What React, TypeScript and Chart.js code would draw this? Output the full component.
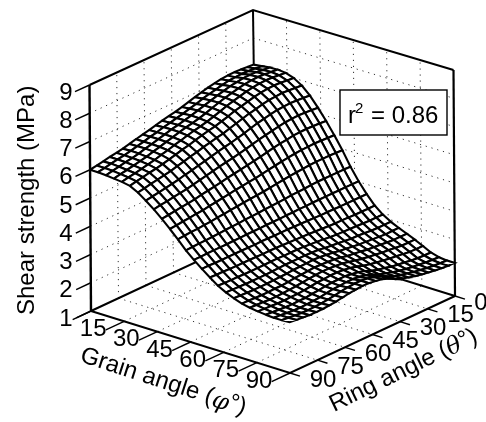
import React, { useEffect, useRef } from "react";
import { Chart, registerables } from "chart.js";

Chart.register(...registerables);

const grainTicks = [0, 15, 30, 45, 60, 75, 90];
const grainLabels = ["15", "30", "45", "60", "75", "90"];
const ringTicks = [90, 75, 60, 45, 30, 15, 0];
const ringLabels = ["90", "75", "60", "45", "30", "15", "0"];
const shearTicks = [1, 2, 3, 4, 5, 6, 7, 8, 9];
const rSquared = "0.86";

// rows: ring angle from 90 down to 0 in 25 steps; columns: grain angle from 0 to 90 in 25 steps
const shearRows: number[][] = [
  [6.00,6.00,5.98,5.95,5.92,5.87,5.72,5.52,5.30,5.05,4.78,4.50,4.20,3.95,3.72,3.50,3.30,3.15,3.03,2.93,2.87,2.83,2.80,2.78,2.78,2.80],
  [6.04,6.04,6.03,6.00,5.97,5.92,5.76,5.56,5.34,5.08,4.80,4.52,4.21,3.95,3.72,3.49,3.29,3.14,3.02,2.92,2.86,2.81,2.78,2.76,2.76,2.77],
  [6.08,6.09,6.07,6.04,6.01,5.96,5.81,5.60,5.37,5.11,4.83,4.54,4.22,3.96,3.71,3.49,3.28,3.13,3.01,2.91,2.85,2.80,2.76,2.73,2.73,2.75],
  [6.13,6.13,6.12,6.09,6.06,6.01,5.85,5.64,5.41,5.14,4.85,4.55,4.23,3.96,3.71,3.48,3.28,3.12,3.00,2.90,2.83,2.78,2.74,2.71,2.71,2.72],
  [6.17,6.17,6.16,6.14,6.11,6.05,5.90,5.68,5.44,5.17,4.88,4.57,4.24,3.96,3.71,3.47,3.27,3.12,3.00,2.90,2.83,2.78,2.73,2.70,2.70,2.72],
  [6.21,6.22,6.21,6.19,6.16,6.10,5.94,5.73,5.48,5.20,4.90,4.59,4.25,3.96,3.71,3.47,3.27,3.12,3.00,2.91,2.84,2.79,2.74,2.71,2.71,2.72],
  [6.27,6.28,6.28,6.26,6.23,6.16,6.01,5.79,5.53,5.25,4.94,4.62,4.27,3.97,3.71,3.47,3.27,3.12,3.01,2.91,2.85,2.79,2.74,2.72,2.72,2.74],
  [6.33,6.33,6.33,6.32,6.29,6.22,6.06,5.84,5.58,5.29,4.97,4.64,4.28,3.97,3.71,3.47,3.27,3.13,3.02,2.93,2.87,2.81,2.77,2.74,2.75,2.76],
  [6.39,6.40,6.40,6.39,6.36,6.29,6.13,5.90,5.63,5.33,5.01,4.67,4.29,3.98,3.70,3.46,3.28,3.14,3.03,2.96,2.90,2.84,2.79,2.78,2.78,2.80],
  [6.44,6.45,6.46,6.45,6.42,6.34,6.18,5.95,5.68,5.37,5.04,4.69,4.31,3.98,3.71,3.46,3.28,3.15,3.05,2.97,2.92,2.87,2.82,2.81,2.82,2.84],
  [6.50,6.52,6.53,6.52,6.49,6.41,6.25,6.01,5.73,5.42,5.08,4.72,4.32,3.98,3.71,3.46,3.27,3.15,3.06,2.99,2.94,2.88,2.84,2.82,2.85,2.86],
  [6.56,6.57,6.58,6.58,6.55,6.47,6.30,6.07,5.78,5.46,5.11,4.74,4.33,3.99,3.70,3.45,3.27,3.15,3.07,3.01,2.96,2.90,2.85,2.84,2.87,2.88],
  [6.61,6.63,6.64,6.63,6.60,6.53,6.36,6.12,5.82,5.50,5.14,4.76,4.35,3.99,3.70,3.44,3.27,3.15,3.08,3.00,2.95,2.90,2.85,2.84,2.87,2.87],
  [6.66,6.68,6.70,6.69,6.66,6.58,6.41,6.17,5.87,5.54,5.17,4.78,4.36,3.99,3.70,3.43,3.26,3.14,3.07,2.99,2.93,2.88,2.82,2.81,2.84,2.84],
  [6.72,6.75,6.77,6.76,6.73,6.65,6.48,6.23,5.92,5.58,5.21,4.81,4.37,4.00,3.69,3.42,3.24,3.13,3.04,2.97,2.91,2.84,2.78,2.76,2.78,2.79],
  [6.79,6.81,6.84,6.84,6.81,6.72,6.55,6.29,5.98,5.63,5.25,4.84,4.39,4.00,3.69,3.41,3.22,3.09,3.01,2.93,2.86,2.78,2.71,2.67,2.69,2.70],
  [6.86,6.89,6.91,6.92,6.89,6.80,6.62,6.36,6.04,5.68,5.29,4.87,4.41,4.01,3.68,3.39,3.20,3.06,2.96,2.87,2.80,2.70,2.61,2.57,2.58,2.58],
  [6.92,6.95,6.98,6.99,6.96,6.86,6.69,6.43,6.09,5.73,5.33,4.90,4.42,4.01,3.67,3.38,3.17,3.04,2.93,2.84,2.75,2.65,2.54,2.50,2.49,2.50],
  [6.98,7.00,7.04,7.05,7.02,6.92,6.74,6.48,6.14,5.77,5.36,4.92,4.43,4.02,3.66,3.36,3.15,3.01,2.90,2.81,2.71,2.60,2.49,2.43,2.42,2.42],
  [7.03,7.06,7.10,7.11,7.08,6.98,6.80,6.53,6.18,5.80,5.39,4.94,4.45,4.02,3.66,3.35,3.14,2.98,2.87,2.77,2.68,2.56,2.43,2.37,2.36,2.36],
  [7.07,7.10,7.14,7.15,7.12,7.02,6.84,6.57,6.22,5.84,5.41,4.96,4.46,4.02,3.66,3.35,3.13,2.98,2.85,2.75,2.64,2.52,2.39,2.33,2.31,2.31],
  [7.09,7.12,7.17,7.18,7.15,7.05,6.86,6.59,6.24,5.85,5.42,4.97,4.46,4.02,3.65,3.34,3.12,2.96,2.83,2.73,2.62,2.49,2.36,2.29,2.27,2.27],
  [7.10,7.13,7.18,7.19,7.16,7.06,6.88,6.60,6.25,5.86,5.43,4.97,4.46,4.02,3.65,3.33,3.11,2.94,2.81,2.70,2.59,2.46,2.32,2.26,2.23,2.23],
  [7.09,7.12,7.17,7.18,7.15,7.05,6.86,6.59,6.24,5.85,5.42,4.97,4.46,4.02,3.65,3.33,3.10,2.93,2.79,2.68,2.56,2.43,2.29,2.23,2.20,2.20],
  [7.07,7.10,7.14,7.15,7.12,7.02,6.84,6.57,6.22,5.84,5.41,4.96,4.46,4.02,3.65,3.33,3.10,2.93,2.80,2.68,2.56,2.42,2.28,2.21,2.18,2.18],
  [7.05,7.08,7.12,7.13,7.10,7.00,6.82,6.55,6.20,5.82,5.40,4.95,4.45,4.02,3.65,3.33,3.10,2.93,2.80,2.68,2.56,2.42,2.28,2.20,2.17,2.17],
];

const FONT = '"Liberation Sans", Arial, sans-serif';

// oblique axonometric view of the box: grain, ring and strength to page coordinates
function project(grain: number, ring: number, z: number) {
  const g = grain / 90;
  const t = 1 - ring / 90;
  const h = (z - 1) / 8;
  const far = t * (1 - g) * h;
  return {
    x: 91 + 199 * g + 165 * t - h * 1.5 - far * 1.5,
    y: 311 + 62 * g - 77 * t - (z - 1) * 28.25 + far * 2,
  };
}

function segment(points: { x: number; y: number }[], width: number, dash: number[] = [], color = "#000") {
  return {
    data: points,
    showLine: true,
    borderColor: color,
    borderWidth: width,
    borderDash: dash,
    pointRadius: 0,
    fill: false,
    tension: 0,
  };
}

function frameBehind() {
  const out: any[] = [];
  const dot = [1.2, 4.8];
  const grey = "#333";
  grainTicks.slice(1, -1).forEach((g) => {
    out.push(segment([project(g, 90, 1), project(g, 0, 1)], 1, dot, grey));
    out.push(segment([project(g, 0, 1), project(g, 0, 9)], 1, dot, grey));
  });
  ringTicks.slice(1, -1).forEach((r) => {
    out.push(segment([project(0, r, 1), project(90, r, 1)], 1, dot, grey));
    out.push(segment([project(0, r, 1), project(0, r, 9)], 1, dot, grey));
  });
  shearTicks.slice(1, -1).forEach((z) => {
    out.push(segment([project(0, 90, z), project(0, 0, z), project(90, 0, z)], 1, dot, grey));
  });
  out.push(segment([project(0, 90, 1), project(0, 0, 1), project(90, 0, 1)], 2));
  out.push(segment([project(0, 0, 1), project(0, 0, 9)], 2));
  out.push(segment([project(0, 90, 9), project(0, 0, 9), project(90, 0, 9)], 2));
  return out;
}

function surface() {
  const out: any[] = [];
  const n = shearRows.length - 1;
  const gAt = (i: number) => (i / n) * 90;
  const rAt = (j: number) => 90 - (j / n) * 90;
  for (let i = 0; i < n; i++) {
    for (let j = n - 1; j >= 0; j--) {
      const p = [
        project(gAt(i), rAt(j), shearRows[j][i]),
        project(gAt(i + 1), rAt(j), shearRows[j][i + 1]),
        project(gAt(i + 1), rAt(j + 1), shearRows[j + 1][i + 1]),
        project(gAt(i), rAt(j + 1), shearRows[j + 1][i]),
        project(gAt(i), rAt(j), shearRows[j][i]),
      ];
      out.push({
        data: p,
        showLine: true,
        borderColor: "#000",
        backgroundColor: "#fff",
        borderWidth: 2.1,
        pointRadius: 0,
        fill: "shape",
        tension: 0,
      });
    }
  }
  return out;
}

function frameFront() {
  const out: any[] = [];
  const tickG = 10;
  out.push(segment([project(0, 90, 1), project(90, 90, 1), project(90, 0, 1)], 2));
  out.push(segment([project(0, 90, 1), project(0, 90, 9)], 2.4));
  out.push(segment([project(90, 0, 1), project(90, 0, 9)], 2.2));
  grainTicks.forEach((g) => {
    out.push(segment([project(g, 90, 1), project(g, 90 + tickG, 1)], 1.4));
  });
  ringTicks.forEach((r) => {
    out.push(segment([project(90, r, 1), project(90 + 4.5, r, 1)], 1.4));
  });
  shearTicks.forEach((z) => {
    out.push(segment([project(0, 90, z), project(0, 90 + tickG * 0.8, z)], 1.4));
  });
  return out;
}

const textPlugin = {
  id: "boxText",
  afterDatasetsDraw(chart: any) {
    const ctx: CanvasRenderingContext2D = chart.ctx;
    const sx = chart.scales.x;
    const sy = chart.scales.y;
    const put = (p: { x: number; y: number }, dx: number, dy: number, s: string, align: CanvasTextAlign = "center") => {
      ctx.textAlign = align;
      ctx.textBaseline = "middle";
      ctx.fillText(s, sx.getPixelForValue(p.x) + dx, sy.getPixelForValue(p.y) + dy);
    };
    ctx.save();
    ctx.fillStyle = "#000";
    ctx.font = `24px ${FONT}`;
    shearTicks.forEach((z) => put(project(0, 90, 1), -25, 8 - (z - 1) * 28.25, String(z)));
    grainLabels.forEach((s, k) => put(project(grainTicks[k + 1], 90, 1), -31, 8, s));
    ringLabels.forEach((s, k) => put(project(90, ringTicks[k], 1), s.length > 1 ? 33 : 26, 7, s));

    const spin = (cx: number, cy: number, deg: number, draw: () => void) => {
      ctx.save();
      ctx.translate(cx, cy);
      ctx.rotate((deg * Math.PI) / 180);
      ctx.textBaseline = "middle";
      ctx.textAlign = "left";
      draw();
      ctx.restore();
    };
    spin(27, 315, -90, () => ctx.fillText("Shear strength (MPa)", 0, 0));
    spin(81, 355, 18, () => {
      ctx.fillText("Grain angle (", 0, 0);
      let x = ctx.measureText("Grain angle (").width;
      ctx.font = `italic 24px "DejaVu Serif", serif`;
      ctx.fillText("φ", x, 2);
      x += ctx.measureText("φ").width;
      ctx.font = `24px ${FONT}`;
      ctx.fillText("°", x, -1);
      x += ctx.measureText("°").width;
      ctx.fillText(")", x, 0);
    });
    spin(331, 406, -26, () => {
      ctx.fillText("Ring angle (", 0, 0);
      let x = ctx.measureText("Ring angle (").width;
      ctx.font = `italic 24px "DejaVu Serif", serif`;
      ctx.fillText("θ", x, 1);
      x += ctx.measureText("θ").width;
      ctx.font = `24px ${FONT}`;
      ctx.fillText("°", x, -1);
      x += ctx.measureText("°").width;
      ctx.fillText(")", x, 0);
    });

    ctx.fillStyle = "#fff";
    ctx.strokeStyle = "#000";
    ctx.lineWidth = 1.4;
    ctx.fillRect(340, 90, 107, 45);
    ctx.strokeRect(340, 90, 107, 45);
    ctx.fillStyle = "#000";
    ctx.textAlign = "left";
    ctx.textBaseline = "alphabetic";
    ctx.font = `24px ${FONT}`;
    ctx.fillText("r", 348, 123);
    ctx.font = `15px ${FONT}`;
    ctx.fillText("2", 355, 113);
    ctx.font = `24px ${FONT}`;
    ctx.fillText(`= ${rSquared}`, 371, 123);
    ctx.restore();
  },
};

export default function App() {
  const ref = useRef<HTMLCanvasElement>(null);
  useEffect(() => {
    if (!ref.current) return;
    const ordered = [...frameBehind(), ...surface(), ...frameFront()];
    const chart = new Chart(ref.current, {
      type: "scatter",
      // Chart.js paints the first dataset last, so the list runs front to back
      data: { datasets: ordered.reverse() },
      options: {
        responsive: false,
        animation: false,
        events: [],
        layout: { padding: 0 },
        plugins: { legend: { display: false }, tooltip: { enabled: false } },
        scales: {
          x: { type: "linear", display: false, min: 0, max: 486 },
          y: { type: "linear", display: false, min: 0, max: 422, reverse: true },
        },
      },
      plugins: [textPlugin],
    } as any);
    return () => chart.destroy();
  }, []);
  return (
    <canvas
      ref={ref}
      width={486}
      height={422}
      style={{ position: "fixed", left: 0, top: 0, display: "block" }}
    />
  );
}
